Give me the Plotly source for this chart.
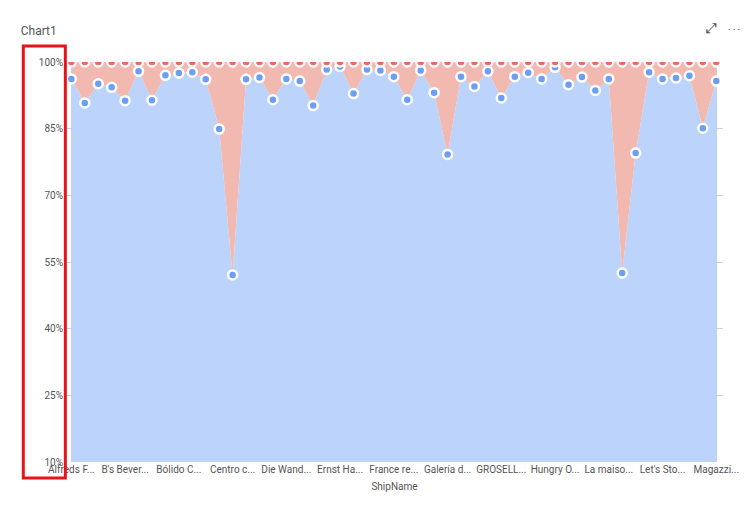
import plotly.graph_objects as go

ship_names = [
    "Alfreds Futterkiste", "Ana Trujillo Emparedados", "Antonio Moreno Taquería", "Around the Horn",
    "B's Beverages", "Berglunds snabbköp", "Blauer See Delikatessen", "Blondel père et fils",
    "Bólido Comidas preparadas", "Bon app'", "Bottom-Dollar Markets", "Cactus Comidas para llevar",
    "Centro comercial Moctezuma", "Chop-suey Chinese", "Comércio Mineiro", "Consolidated Holdings",
    "Die Wandernde Kuh", "Drachenblut Delikatessen", "Du monde entier", "Eastern Connection",
    "Ernst Handel", "Familia Arquibaldo", "Folies gourmandes", "Folk och fä HB",
    "France restauration", "Franchi S.p.A.", "Frankenversand", "Furia Bacalhau e Frutos do Mar",
    "Galería del gastronómo", "Godos Cocina Típica", "Gourmet Lanchonetes", "Great Lakes Food Market",
    "GROSELLA-Restaurante", "Hanari Carnes", "HILARIÓN-Abastos", "Hungry Coyote Import Store",
    "Hungry Owl All-Night Grocers", "Island Trading", "Königlich Essen", "La corne d'abondance",
    "La maison d'Asie", "Laughing Bacchus Wine Cellars", "Lazy K Kountry Store", "Lehmanns Marktstand",
    "Let's Stop N Shop", "LILA-Supermercado", "LINO-Delicateses", "Lonesome Pine Restaurant",
    "Magazzini Alimentari Riuniti",
]

# share of series 1 (blue) in percent
share_blue = [
    96.2, 90.8, 95.1, 94.3, 91.3, 97.9, 91.4, 97.0, 97.5, 97.7, 96.1, 84.9, 52.1,
    96.1, 96.5, 91.5, 96.2, 95.7, 90.2, 98.3, 99.0, 92.9, 98.3, 98.1, 96.7, 91.5,
    98.1, 93.1, 79.2, 96.7, 94.5, 97.9, 91.9, 96.7, 97.6, 96.2, 98.8, 94.9, 96.6,
    93.6, 96.2, 52.5, 79.5, 97.7, 96.2, 96.4, 96.9, 85.1, 95.7,
]
share_red = [round(100 - v, 1) for v in share_blue]

tick_idx = list(range(0, len(ship_names), 4))
tick_text = ["Alfreds F...", "B's Bever...", "Bólido C...", "Centro c...", "Die Wand...",
             "Ernst Ha...", "France re...", "Galería d...", "GROSELL...", "Hungry O...",
             "La maiso...", "Let's Sto...", "Magazzi..."]
y_ticks = [10, 25, 40, 55, 70, 85, 100]

fig = go.Figure()
fig.add_trace(go.Scatter(
    x=ship_names, y=share_blue, stackgroup="one", groupnorm="percent",
    mode="lines+markers", line=dict(width=0, color="#bcd3fb"), fillcolor="#bcd3fb",
    marker=dict(size=9, color="#6c9ff3", line=dict(color="white", width=2.5)),
    name="Series1",
))
fig.add_trace(go.Scatter(
    x=ship_names, y=share_red, stackgroup="one",
    mode="lines+markers", line=dict(width=0, color="#f2b9b1"), fillcolor="#f2b9b1",
    marker=dict(size=9, color="#ec6a5c", line=dict(color="white", width=2.5)),
    name="Series2",
))

fig.update_layout(
    width=750, height=521,
    paper_bgcolor="white", plot_bgcolor="white",
    margin=dict(l=58, r=35, t=54, b=67, autoexpand=False),
    showlegend=False,
    font=dict(family="Roboto", size=10, color="#555"),
    title=dict(text="Chart1", x=0.017, xanchor="left", y=0.965, font=dict(size=12, color="#555")),
    xaxis=dict(
        tickvals=[ship_names[i] for i in tick_idx], ticktext=tick_text, tickangle=0,
        showgrid=True, gridcolor="rgba(160,180,215,0.6)", range=[-0.4, 48.5],
        title=dict(text="ShipName", font=dict(size=10), standoff=8), ticks="",
        showline=False, automargin=False, layer="above traces",
    ),
    yaxis=dict(
        range=[10, 100], tickvals=y_ticks, ticktext=[f"{v}%" for v in y_ticks],
        showgrid=True, gridcolor="rgba(160,180,215,0.6)", zeroline=False,
        showline=True, linecolor="#c9d4ea", automargin=False, layer="above traces",
    ),
    shapes=[dict(type="rect", xref="paper", yref="paper", x0=-0.065, x1=-0.001,
                 y0=-0.04, y1=1.04, line=dict(color="#e8141a", width=3))],
    annotations=[dict(text="⤢ &nbsp; ⋯", xref="paper", yref="paper", x=1.03, y=1.11,
                      showarrow=False, font=dict(size=14, color="#444"), xanchor="right")],
)

fig.write_html("out.html")
